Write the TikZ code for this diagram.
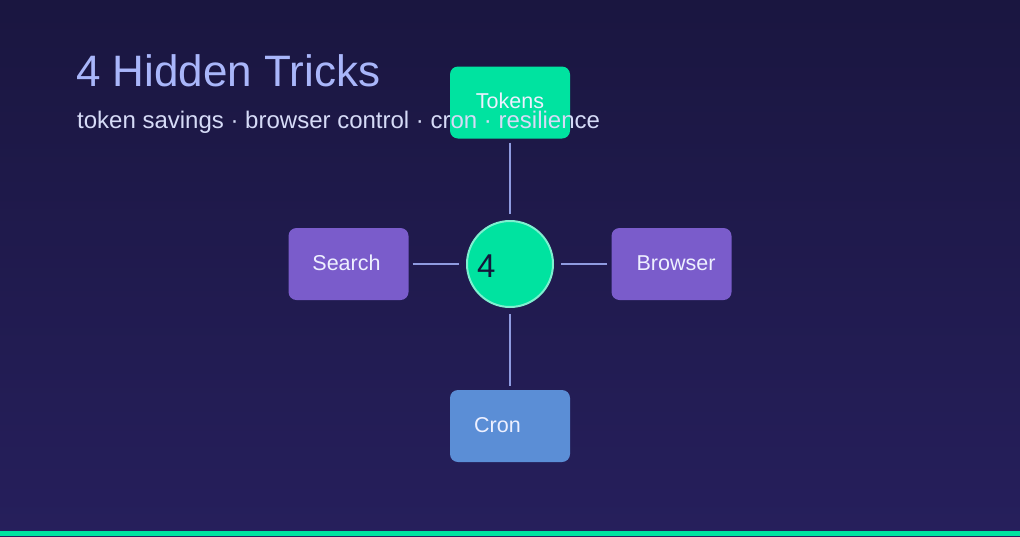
\documentclass[tikz,border=0pt]{standalone}
\usepackage{fontspec}
\setmainfont{Liberation Sans}
\definecolor{bgtop}{HTML}{1A1640}
\definecolor{bgbot}{HTML}{261F5C}
\definecolor{mint}{HTML}{00E3A0}
\definecolor{mintedge}{HTML}{7FF0D0}
\definecolor{violet}{HTML}{7A5CCB}
\definecolor{skyblue}{HTML}{5B8ED6}
\definecolor{linkc}{HTML}{8F9BE0}
\definecolor{titlec}{HTML}{A9B6FA}
\definecolor{subc}{HTML}{D6DBF7}
\definecolor{labc}{HTML}{EEF0FF}
\definecolor{darkc}{HTML}{14163A}
\tikzset{
  box/.style={rounded corners=8pt, minimum width=120pt, minimum height=72pt, inner sep=0pt, draw=none},
  lab/.style={text=labc, font=\fontsize{21.5}{24}\selectfont, inner sep=0pt},
  link/.style={draw=linkc, line width=2pt},
}
\begin{document}
\begin{tikzpicture}[x=1pt,y=-1pt]
\useasboundingbox (0,0) rectangle (1020,536);
\shade[top color=bgtop, bottom color=bgbot] (0,0) rectangle (1020,536);
\fill[mint] (0,531) rectangle (1020,536);
% boxes
\node[box, fill=mint] (tok) at (510,102.5) {};
\node[box, fill=violet] (sea) at (348.5,264) {};
\node[box, fill=violet] (bro) at (671.5,264) {};
\node[box, fill=skyblue] (cro) at (510,426) {};
\node[circle, fill=mint, draw=mintedge, line width=2pt, minimum size=86pt, inner sep=0pt] (hub) at (510,264) {};
% connectors
\draw[link, shorten <=4pt, shorten >=6pt] (tok) -- (hub);
\draw[link, shorten <=4pt, shorten >=7pt] (sea) -- (hub);
\draw[link, shorten <=4pt, shorten >=7pt] (bro) -- (hub);
\draw[link, shorten <=4pt, shorten >=6pt] (cro) -- (hub);
% labels
\node[lab] (tokl) at (510,101) {Tokens};
\node[lab] (seal) at (346.5,263) {Search};
\node[lab] (brol) at (676,263) {Browser};
\node[lab] (crol) at (497.5,425) {Cron};
\node[anchor=base west, inner sep=0pt, text=darkc, font=\fontsize{33}{36}\selectfont] (four) at (477,277) {4};
% title
\node[anchor=base west, inner sep=0pt, text=titlec, font=\fontsize{44}{48}\selectfont] (title) at (76,86) {4 Hidden Tricks};
\node[anchor=base west, inner sep=0pt, text=subc, font=\fontsize{24}{28}\selectfont] (sub) at (77,128) {token savings · browser control · cron · resilience};
\end{tikzpicture}
\end{document}
